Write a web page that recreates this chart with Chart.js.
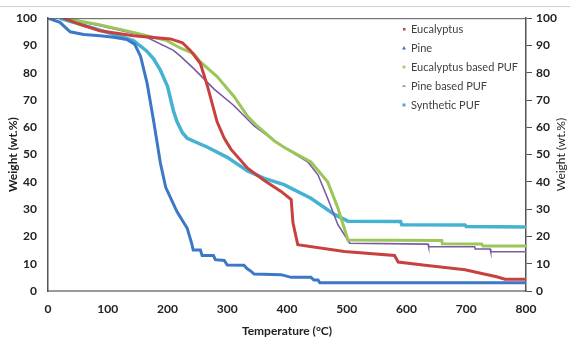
<!DOCTYPE html>
<html>
<head>
<meta charset="utf-8">
<script src="https://cdn.jsdelivr.net/npm/chart.js@4/dist/chart.umd.min.js"></script>
<style>
  html, body { margin: 0; padding: 0; background: #fff; }
  #wrap { width: 570px; height: 341px; }
</style>
</head>
<body>
<div id="wrap"><canvas id="myChart" width="570" height="341"></canvas></div>
<script>
// x axis ticks
const xTicks = [0, 100, 200, 300, 400, 500, 600, 700, 800];
const yTicks = [0, 10, 20, 30, 40, 50, 60, 70, 80, 90, 100];

// Eucalyptus
const eucT = [26, 50, 87, 143, 205, 225, 239, 255, 267, 283, 295, 306, 334, 362, 390, 407, 410, 418, 496, 580, 586, 631, 698, 726, 751, 765, 800];
const eucW = [100, 98, 95.4, 93.6, 92.4, 91, 88, 83.4, 75, 62, 56, 52, 45, 40.5, 36.5, 33.5, 25, 17, 14.5, 13, 10.6, 9.4, 7.8, 6.4, 5.2, 4.3, 4.3];

// Pine
const pineT = [0, 20, 37, 60, 87, 110, 132, 145, 155, 166, 177, 188, 197, 216, 233, 241, 243, 255, 258, 277, 280, 295, 300, 328, 333, 340, 345, 390, 407, 440, 445, 452, 455, 800];
const pineW = [100, 98.5, 95, 94, 93.6, 93, 92.2, 90.5, 86, 76, 62, 47, 38, 29, 23, 17, 15, 15, 13, 13, 11.5, 11.2, 9.5, 9.4, 8.2, 7.2, 6.2, 6, 5, 5, 4, 4, 3, 3];

// Eucalyptus based PUF
const eucPufT = [26, 82, 143, 199, 222, 244, 255, 283, 311, 334, 350, 379, 395, 440, 468, 485, 502, 659, 660, 726, 728, 800];
const eucPufW = [100, 97.8, 94.8, 91.8, 89, 87, 84, 78.6, 71.4, 64, 60.5, 55, 52.7, 47.3, 40, 30.5, 18.7, 18.5, 17.3, 17.2, 16.5, 16.5];

// Pine based PUF
const pinePufT = [26, 87, 160, 210, 222, 244, 278, 311, 345, 379, 395, 435, 452, 468, 485, 505, 636, 637, 714, 715, 740, 741, 800];
const pinePufW = [100, 97.2, 93.6, 88.2, 86, 81.5, 74, 68, 60.5, 55, 52.7, 47.3, 42.5, 34, 24.4, 17.5, 17.2, 16.2, 16.2, 15.4, 15.4, 14.4, 14.4];

// Synthetic PUF
const synT = [20, 54, 99, 143, 165, 177, 188, 200, 210, 216, 225, 233, 267, 300, 334, 362, 395, 440, 480, 502, 590, 592, 698, 700, 800];
const synW = [100, 97.8, 94.8, 91.8, 88, 85, 81, 75, 66, 62, 58, 56, 52.7, 49, 44, 41.3, 39, 34, 28, 25.6, 25.5, 24.3, 24.2, 23.6, 23.5];

const seriesNames = ["Eucalyptus", "Pine", "Eucalyptus based PUF", "Pine based PUF", "Synthetic PUF"];
const seriesColors = ["#C9413E", "#3C78C6", "#9CC55A", "#7A5AA6", "#45B2D2"];

function pts(t, w) {
  return t.map((x, i) => ({ x: x, y: w[i] }));
}

const allT = [eucT, pineT, eucPufT, pinePufT, synT];
const allW = [eucW, pineW, eucPufW, pinePufW, synW];
const widths = [3, 3, 3, 1.6, 3.5];

const datasets = seriesNames.map((name, i) => ({
  label: name,
  data: pts(allT[i], allW[i]),
  borderColor: seriesColors[i],
  backgroundColor: seriesColors[i],
  borderWidth: widths[i],
  showLine: true,
  pointRadius: 0,
  tension: 0,
  fill: false
}));

// legend inside plot + right title + top line
const extras = {
  id: "extras",
  afterDraw(chart) {
    const ctx = chart.ctx;
    const a = chart.chartArea;
    ctx.save();
    // thin grey line on top of picture
    ctx.strokeStyle = "#cfcfcf";
    ctx.lineWidth = 1;
    ctx.beginPath();
    ctx.moveTo(0, 6.5); ctx.lineTo(570, 6.5);
    ctx.stroke();
    // top border of plot
    ctx.strokeStyle = "#555";
    ctx.beginPath();
    ctx.moveTo(a.left, a.top + 0.5); ctx.lineTo(a.right, a.top + 0.5);
    ctx.stroke();

    // legend
    const ly = [29, 48, 67, 86, 105];
    ctx.font = "11px Lato";
    ctx.textBaseline = "middle";
    ctx.textAlign = "left";
    seriesNames.forEach((n, i) => {
      const c = seriesColors[i];
      ctx.fillStyle = c;
      ctx.strokeStyle = c;
      const mx = 404, my = ly[i];
      if (i == 0) { ctx.fillRect(mx - 1, my - 1, 2.5, 2.5); }
      else if (i == 1) {
        ctx.beginPath(); ctx.moveTo(mx, my - 2); ctx.lineTo(mx + 2, my + 1.5); ctx.lineTo(mx - 2, my + 1.5); ctx.closePath(); ctx.fill();
      } else if (i == 2) {
        ctx.lineWidth = 1;
        ctx.beginPath(); ctx.moveTo(mx - 2, my); ctx.lineTo(mx + 2, my); ctx.moveTo(mx, my - 2); ctx.lineTo(mx, my + 2); ctx.stroke();
      } else if (i == 3) { ctx.fillRect(mx - 1.5, my - 0.5, 3, 1.2); }
      else { ctx.fillRect(mx - 1.5, my - 1.5, 3, 3); }
      ctx.fillStyle = "#404040";
      ctx.fillText(n, 411, my);
    });

    // right axis title, reading upwards like the left one
    ctx.translate(561, (a.top + a.bottom) / 2);
    ctx.rotate(-Math.PI / 2);
    ctx.textAlign = "center";
    ctx.font = "12px Lato";
    ctx.fillStyle = "#222";
    ctx.fillText("Weight (wt.%)", 0, 0);
    ctx.restore();
  }
};

const tickFont = { family: "Lato", size: 12, weight: "bold" };

let ctx = document.getElementById("myChart");
let myChart = new Chart(ctx, {
  type: "scatter",
  data: { datasets: datasets },
  options: {
    responsive: false,
    animation: false,
    layout: { padding: { top: 14, left: 0, right: 0, bottom: 0 } },
    plugins: { legend: { display: false }, tooltip: { enabled: false } },
    scales: {
      x: {
        type: "linear",
        min: 0, max: 800,
        afterBuildTicks: s => { s.ticks = xTicks.map(v => ({ value: v })); },
        grid: { drawOnChartArea: false, drawTicks: false },
        border: { color: "#9a9a9a", width: 2 },
        ticks: { font: tickFont, color: "#222", padding: 11, maxRotation: 0 },
        title: { display: true, text: "Temperature (°C)", font: { family: "Lato", size: 12, weight: "bold" }, color: "#222", padding: { top: 0, bottom: 3 } },
        afterFit: s => { s.height = 50; }
      },
      y: {
        type: "linear",
        position: "left",
        min: 0, max: 100,
        afterBuildTicks: s => { s.ticks = yTicks.map(v => ({ value: v })); },
        grid: { drawOnChartArea: false, drawTicks: false },
        border: { color: "#555", width: 1.5 },
        ticks: { font: tickFont, color: "#222", padding: 11 },
        title: { display: true, text: "Weight (wt.%)", font: { family: "Lato", size: 12, weight: "bold" }, color: "#222", padding: { top: 6, bottom: 0 } },
        afterFit: s => { s.width = 48; }
      },
      y2: {
        type: "linear",
        position: "right",
        min: 0, max: 100,
        afterBuildTicks: s => { s.ticks = yTicks.map(v => ({ value: v })); },
        grid: { drawOnChartArea: false, drawTicks: true, tickLength: 6, color: "#555" },
        border: { color: "#555", width: 1.5 },
        ticks: { font: tickFont, color: "#222", padding: 4 },
        afterFit: s => { s.width = 44; }
      }
    }
  },
  plugins: [extras]
});
</script>
</body>
</html>
